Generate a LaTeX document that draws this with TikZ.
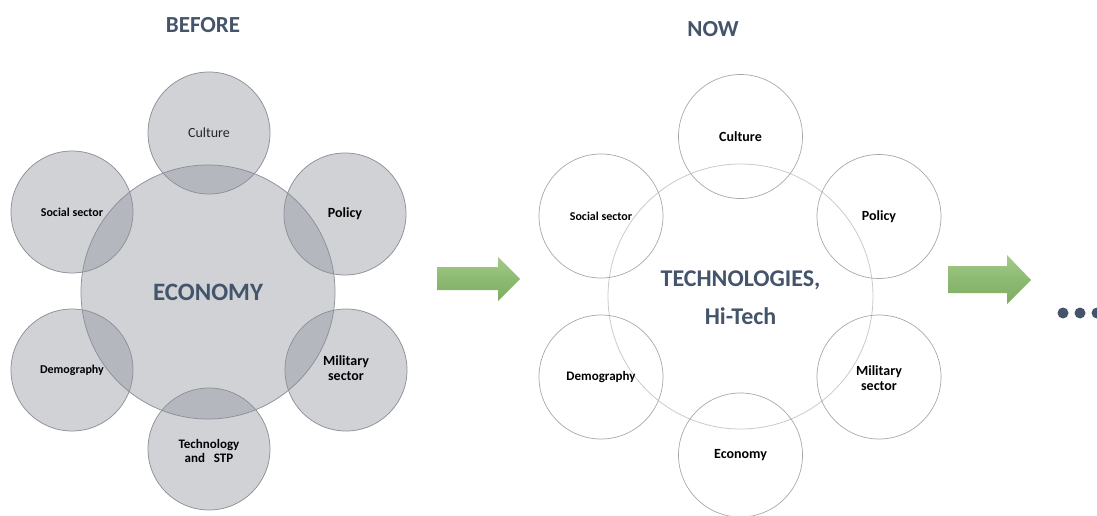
\documentclass[tikz,border=0pt]{standalone}
\usepackage{fontspec}
\setmainfont{Carlito}
\definecolor{slate}{HTML}{44546A}
\definecolor{gfill}{HTML}{8A8F99}
\definecolor{gline}{HTML}{8E9198}
\definecolor{oline}{HTML}{A8A8A8}
\definecolor{bline}{HTML}{CACACA}
\definecolor{agreenT}{HTML}{A3CA8A}
\definecolor{agreenM}{HTML}{8DBA72}
\definecolor{agreenB}{HTML}{7DAC61}
\tikzset{
  gcirc/.style={circle, inner sep=0pt, draw=gline, line width=0.75pt, fill=gfill, fill opacity=0.4, text opacity=1},
  ocirc/.style={circle, inner sep=0pt, draw=oline, line width=0.7pt},
  bcirc/.style={circle, inner sep=0pt, draw=bline, line width=0.8pt},
  lbl/.style={font=\bfseries\fontsize{14}{15}\selectfont, align=center, text=black},
  title/.style={font=\bfseries\fontsize{23}{26}\selectfont, text=slate},
  center/.style={font=\bfseries\fontsize{24}{38}\selectfont, text=slate, align=center},
  greenarrow/.style={top color=agreenT, bottom color=agreenB, middle color=agreenM}
}
\begin{document}
\begin{tikzpicture}[x=1pt,y=-1pt]
\useasboundingbox (0,0) rectangle (1097,516);
% ---------- BEFORE ----------
\node[title] (tb) at (203,25) {BEFORE};
\node[gcirc, minimum size=254pt] (eco) at (208,292) {};
\node[gcirc, minimum size=122pt] (lcul) at (209,133) {};
\node[gcirc, minimum size=122pt] (lpol) at (345,214) {};
\node[gcirc, minimum size=122pt] (lsoc) at (72,212) {};
\node[gcirc, minimum size=122pt] (ldem) at (72,370) {};
\node[gcirc, minimum size=122pt] (lmil) at (346,370) {};
\node[gcirc, minimum size=122pt] (ltec) at (209,449) {};
\node[center, font=\bfseries\fontsize{25}{30}\selectfont] (ecot) at (eco) {ECONOMY};
\node[lbl, font=\fontsize{14}{15}\selectfont, text=black!85] (lcult) at (lcul) {Culture};
\node[lbl] (lpolt) at (lpol) {Policy};
\node[lbl, font=\bfseries\fontsize{12}{14}\selectfont] (lsoct) at (lsoc) {Social sector};
\node[lbl, font=\bfseries\fontsize{12}{14}\selectfont] (ldemt) at (ldem) {Demography};
\node[lbl] (lmilt) at ([yshift=2pt]lmil) {Military\\sector};
\node[lbl, font=\bfseries\fontsize{13}{14}\selectfont] (ltect) at ([yshift=-2pt]ltec) {Technology\\and\ \ \ STP};
% ---------- arrows ----------
\shade[greenarrow]
  (437,267) -- (498,267) -- (498,257) -- (520,279) -- (498,301) -- (498,290) -- (437,290) -- cycle;
\shade[greenarrow]
  (948,266) -- (1007,266) -- (1007,255) -- (1031,280) -- (1007,304) -- (1007,293) -- (948,293) -- cycle;
% ---------- NOW ----------
\node[title] (tn) at (713,29) {NOW};
\node[bcirc, minimum size=265pt] (tech) at (740.5,296.5) {};
\node[ocirc, minimum size=124pt] (rcul) at (740.5,136.5) {};
\node[ocirc, minimum size=124pt] (rpol) at (879,216.5) {};
\node[ocirc, minimum size=124pt] (rsoc) at (601,216) {};
\node[ocirc, minimum size=124pt] (rdem) at (601,377) {};
\node[ocirc, minimum size=124pt] (rmil) at (879,377) {};
\node[ocirc, minimum size=124pt] (reco) at (740.5,455) {};
\node[center] (techt) at ([yshift=-1pt]tech) {TECHNOLOGIES,\\Hi-Tech};
\node[lbl] (rcult) at (rcul) {Culture};
\node[lbl] (rpolt) at (rpol) {Policy};
\node[lbl, font=\bfseries\fontsize{12}{14}\selectfont] (rsoct) at (rsoc) {Social sector};
\node[lbl, font=\bfseries\fontsize{13}{14}\selectfont] (rdemt) at (rdem) {Demography};
\node[lbl] (rmilt) at ([yshift=-1pt]rmil) {Military\\sector};
\node[lbl] (recot) at (reco) {Economy};
% ---------- dots ----------
\fill[slate] (1063,313) circle (5.5pt);
\fill[slate] (1080,313) circle (5.5pt);
\fill[slate] (1097,313) circle (5.5pt);
\end{tikzpicture}
\end{document}
